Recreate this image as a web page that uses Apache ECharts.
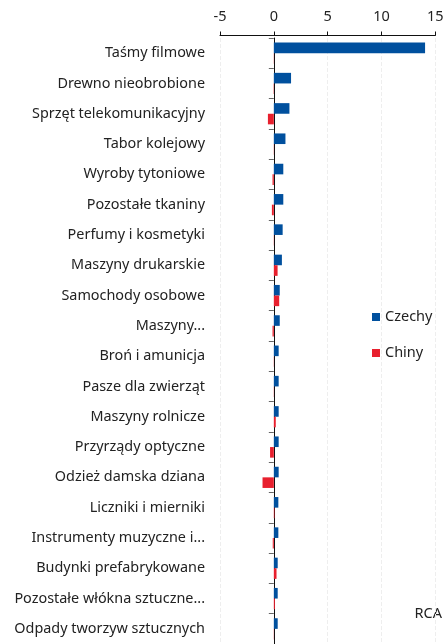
<!DOCTYPE html>
<html>
<head>
<meta charset="utf-8">
<script src="https://cdn.jsdelivr.net/npm/echarts@6/dist/echarts.min.js"></script>
<style>
  html, body { margin: 0; padding: 0; background: #fff; }
  #chart { width: 443px; height: 644px; }
</style>
</head>
<body>
<div id="chart"></div>
<script>
// ======================
// DANE
// ======================
const categories = [
    "Taśmy filmowe",
    "Drewno nieobrobione",
    "Sprzęt telekomunikacyjny",
    "Tabor kolejowy",
    "Wyroby tytoniowe",
    "Pozostałe tkaniny",
    "Perfumy i kosmetyki",
    "Maszyny drukarskie",
    "Samochody osobowe",
    "Maszyny...",
    "Broń i amunicja",
    "Pasze dla zwierząt",
    "Maszyny rolnicze",
    "Przyrządy optyczne",
    "Odzież damska dziana",
    "Liczniki i mierniki",
    "Instrumenty muzyczne i...",
    "Budynki prefabrykowane",
    "Pozostałe włókna sztuczne...",
    "Odpady tworzyw sztucznych"
];

const czechy = [14.05, 1.6, 1.45, 1.08, 0.88, 0.88, 0.82, 0.75, 0.55, 0.55,
                0.45, 0.45, 0.45, 0.45, 0.45, 0.42, 0.42, 0.36, 0.36, 0.36];

const chiny = [0.02, -0.03, -0.55, 0.02, -0.12, -0.18, 0.02, 0.35, 0.5, -0.12,
               0.02, 0.02, 0.18, -0.35, -1.05, 0.06, -0.1, 0.25, 0.1, 0.02];

const seriesNames = ["Czechy", "Chiny"];

// ======================
// KOLORY
// ======================
const COLORS = {
    blue: "#00509e",
    red: "#e8202e",
    text: "#222222"
};

const FONT = "'Noto Sans', Lato, sans-serif";

const chart = echarts.init(document.getElementById("chart"));

chart.setOption({
    backgroundColor: "#ffffff",
    animation: false,
    textStyle: { fontFamily: FONT, color: COLORS.text },
    grid: {
        left: 220,
        right: 7.7,
        top: 38,
        bottom: 0,
        outerBoundsMode: "none"
    },
    legend: {
        orient: "vertical",
        left: 367,
        top: 304,
        itemWidth: 8,
        itemHeight: 8,
        itemGap: 20,
        icon: "rect",
        textStyle: { fontSize: 14.5, color: COLORS.text, lineHeight: 16, fontFamily: FONT },
        data: seriesNames
    },
    graphic: [{
        type: "text",
        right: 1,
        top: 606,
        style: { text: "RCA", fontSize: 14.5, fill: COLORS.text, fontFamily: FONT }
    }],
    xAxis: {
        type: "value",
        position: "top",
        min: -5,
        max: 15,
        interval: 5,
        offset: 2.5,
        axisLine: { show: true, lineStyle: { color: "#111", width: 1 } },
        axisTick: { show: true, length: 4, lineStyle: { color: "#111" } },
        axisLabel: { fontSize: 14.5, color: COLORS.text, margin: 11, fontFamily: FONT },
        splitLine: { show: true, lineStyle: { color: "#eeeeee", type: "dashed" } }
    },
    yAxis: [{
        type: "category",
        inverse: true,
        data: categories,
        axisLine: { show: false, onZero: false },
        axisTick: { show: false },
        axisLabel: { fontSize: 14.4, color: COLORS.text, margin: 15, fontFamily: FONT }
    }, {
        type: "category",
        inverse: true,
        position: "left",
        data: categories,
        axisLine: { show: true, onZero: true, lineStyle: { color: "#111", width: 1 } },
        axisTick: { show: true, length: 5, lineStyle: { color: "#666" } },
        axisLabel: { show: false }
    }],
    series: [{
        name: seriesNames[0],
        type: "bar",
        data: czechy,
        barGap: "0%",
        barCategoryGap: "30%",
        itemStyle: { color: COLORS.blue }
    }, {
        name: seriesNames[1],
        type: "bar",
        data: chiny,
        barGap: "0%",
        barCategoryGap: "30%",
        itemStyle: { color: COLORS.red }
    }]
});

window.addEventListener("resize", () => chart.resize());
</script>
</body>
</html>
